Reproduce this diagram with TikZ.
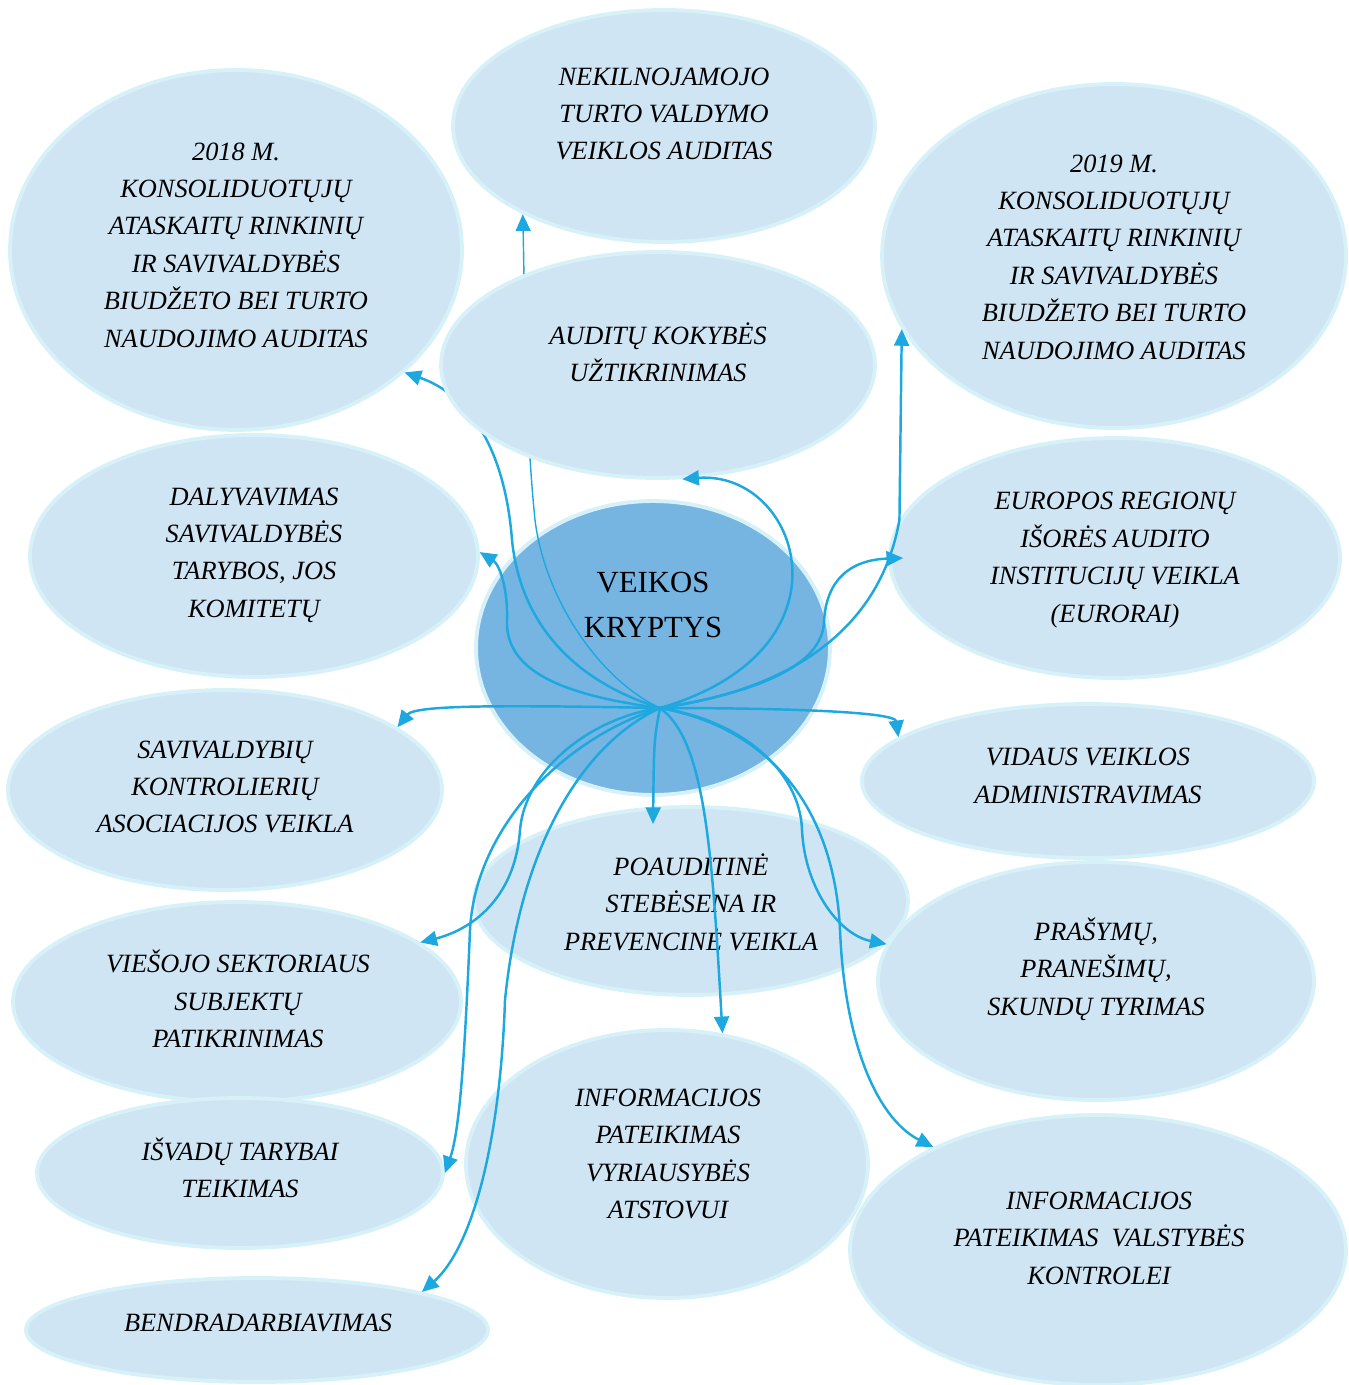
\documentclass[tikz,border=0pt]{standalone}
\usepackage{fontspec}
\setmainfont{Liberation Serif}
\usetikzlibrary{arrows.meta,shapes.geometric}

\definecolor{bubblefill}{RGB}{208,229,244}
\definecolor{bubbleedge}{RGB}{214,241,247}
\definecolor{corefill}{RGB}{118,180,226}
\definecolor{linkblue}{RGB}{29,168,224}

\begin{document}
\begin{tikzpicture}[x=0.02cm,y=-0.02cm,>={Triangle[length=9.5pt,width=8.5pt]},
                    bubble/.style={ellipse,fill=bubblefill,draw=bubbleedge,line width=2.2pt,inner sep=0pt},
                    core/.style={bubble,fill=corefill},
                    lbl/.style={font=\fontsize{15}{21.3}\selectfont\itshape,align=center,inner sep=0pt},
                    corelbl/.style={font=\fontsize{17.5}{25.6}\selectfont,align=center,inner sep=0pt},
                    link/.style={->,draw=linkblue,line width=1.4pt},
                    thinlink/.style={link,line width=0.8pt}]

  \useasboundingbox (0,0) rectangle (1348,1385);
  \coordinate (hub) at (660,708);

  \node[bubble,minimum width=9.04cm,minimum height=7.2cm]  (y2018) at (236,250)  {};
  \node[lbl] (y2018t) at (236,245) {2018 M.\\KONSOLIDUOTŲJŲ\\ATASKAITŲ RINKINIŲ\\IR SAVIVALDYBĖS\\BIUDŽETO BEI TURTO\\NAUDOJIMO AUDITAS};
  \node[bubble,minimum width=8.44cm,minimum height=4.64cm] (nek)   at (664,126)  {};
  \node[lbl] (nekt)   at (664,114) {NEKILNOJAMOJO\\TURTO VALDYMO\\VEIKLOS AUDITAS};
  \node[bubble,minimum width=9.28cm,minimum height=6.88cm] (y2019) at (1114,256) {};
  \node[lbl] (y2019t) at (1114,257) {2019 M.\\KONSOLIDUOTŲJŲ\\ATASKAITŲ RINKINIŲ\\IR SAVIVALDYBĖS\\BIUDŽETO BEI TURTO\\NAUDOJIMO AUDITAS};
  \node[bubble,minimum width=8.96cm,minimum height=4.84cm] (dal)   at (254,556)  {};
  \node[lbl] (dalt)   at (254,555) {DALYVAVIMAS\\SAVIVALDYBĖS\\TARYBOS, JOS\\KOMITETŲ};
  \node[core,minimum width=7.08cm,minimum height=5.88cm]   (kryp)  at (653,648)  {};
  \node[corelbl] (krypt) at (653,605) {VEIKOS\\KRYPTYS};
  \node[bubble,minimum width=9.0cm,minimum height=4.8cm]   (eur)   at (1115,558) {};
  \node[lbl] (eurt)   at (1115,560) {EUROPOS REGIONŲ\\IŠORĖS AUDITO\\INSTITUCIJŲ VEIKLA\\(EURORAI)};
  \node[bubble,minimum width=8.68cm,minimum height=4.0cm]  (sav)   at (225,790)  {};
  \node[lbl] (savt)   at (225,787) {SAVIVALDYBIŲ\\KONTROLIERIŲ\\ASOCIACIJOS VEIKLA};
  \node[bubble,minimum width=9.04cm,minimum height=3.08cm] (vid)   at (1088,781) {};
  \node[lbl] (vidt)   at (1088,776) {VIDAUS VEIKLOS\\ADMINISTRAVIMAS};
  \node[bubble,minimum width=8.68cm,minimum height=3.76cm] (poa)   at (691,901)  {};
  \node[lbl] (poat)   at (691,902) {POAUDITINĖ\\STEBĖSENA IR\\PREVENCINĖ VEIKLA};
  \node[bubble,minimum width=8.72cm,minimum height=4.76cm] (pra)   at (1096,981) {};
  \node[lbl] (prat)   at (1096,969) {PRAŠYMŲ,\\PRANEŠIMŲ,\\SKUNDŲ TYRIMAS};
  \node[bubble,minimum width=8.96cm,minimum height=4.0cm]  (vie)   at (237,1002) {};
  \node[lbl] (viet)   at (238,999) {VIEŠOJO SEKTORIAUS\\SUBJEKTŲ\\PATIKRINIMAS};
  \node[bubble,minimum width=8.12cm,minimum height=3.0cm]  (isv)   at (240,1173) {};
  \node[lbl] (isvt)   at (240,1168) {IŠVADŲ TARYBAI\\TEIKIMAS};
  \node[bubble,minimum width=8.04cm,minimum height=5.36cm] (iv)    at (667,1164) {};
  \node[lbl] (ivt)    at (668,1154) {INFORMACIJOS\\PATEIKIMAS\\VYRIAUSYBĖS\\ATSTOVUI};
  \node[bubble,minimum width=9.92cm,minimum height=5.4cm]  (ivs)   at (1098,1250) {};
  \node[lbl] (ivst)   at (1099,1238) {INFORMACIJOS\\PATEIKIMAS\ \ VALSTYBĖS\\KONTROLEI};
  \node[bubble,minimum width=9.24cm,minimum height=2.08cm] (ben)   at (257,1330) {};
  \node[lbl] (bent)   at (258,1323) {BENDRADARBIAVIMAS};

  % these two pass behind the quality bubble
  \draw[link] (hub) .. controls (570,680) and (520,620) .. (512,540)
                    .. controls (505,450) and (470,395) .. (y2018.-36);
  \draw[thinlink] (hub) .. controls (600,680) and (545,600) .. (535,520)
                        .. controls (525,420) and (525,320) .. (nek.212);

  \node[bubble,minimum width=8.68cm,minimum height=4.52cm] (qa) at (658,365) {};
  \node[lbl] (qat) at (658,352) {AUDITŲ KOKYBĖS\\UŽTIKRINIMAS};

  \draw[link] (hub) .. controls (860,650) and (800,470) .. (qa.-78);
  \draw[link] (hub) .. controls (560,695) and (505,670) .. (507,620)
                    .. controls (508,590) and (500,565) .. (dal.1);
  \draw[link] (hub) .. controls (790,690) and (880,630) .. (eur.170) -- (y2019.199);
  \draw[link] (hub) .. controls (760,692) and (822,665) .. (824,622)
                    .. controls (826,580) and (850,560) .. ([xshift=0.3cm]eur.west);
  \draw[link] (hub) .. controls (500,705) and (415,705) .. (sav.20);
  \draw[link] (hub) .. controls (790,708) and (895,712) .. (vid.167);
  \draw[link] (hub) .. controls (654,740) .. ([xshift=-0.76cm,yshift=-0.38cm]poa.north);
  \draw[link] (hub) .. controls (705,740) and (712,850) .. (iv.67);
  \draw[link] (hub) .. controls (740,720) and (800,770) .. (802,830)
                    .. controls (805,890) and (840,935) .. (pra.170);
  \draw[link] (hub) .. controls (780,730) and (835,820) .. (840,930)
                    .. controls (845,1050) and (880,1120) .. (ivs.148);
  \draw[link] (hub) .. controls (590,718) and (525,770) .. (520,830)
                    .. controls (515,900) and (470,930) .. (vie.18);
  \draw[link] (hub) .. controls (560,740) and (475,830) .. (470,930)
                    .. controls (465,1050) and (460,1130) .. (isv.east);
  \draw[link] (hub) .. controls (580,745) and (520,850) .. (505,1000)
                    .. controls (500,1150) and (470,1250) .. (ben.13);
\end{tikzpicture}
\end{document}
